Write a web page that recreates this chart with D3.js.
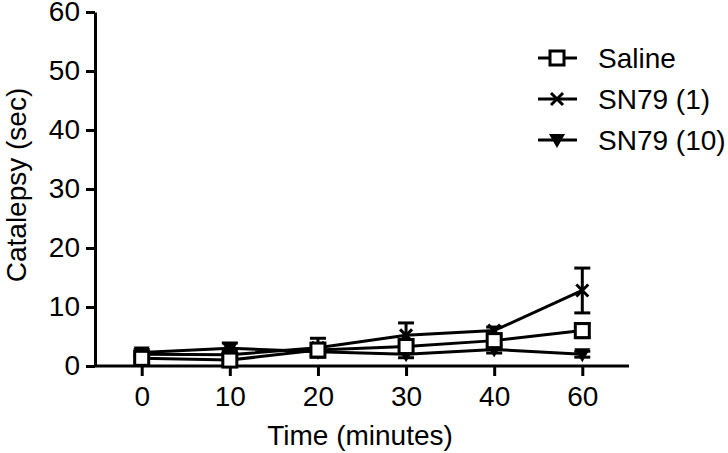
<!DOCTYPE html>
<html>
<head>
<meta charset="utf-8">
<script src="https://d3js.org/d3.v7.min.js"></script>
<style>
  body { margin: 0; background: #fff; }
  text { font-family: "Liberation Sans", Arial, sans-serif; fill: #000; }
</style>
</head>
<body>
<svg id="chart" width="728" height="453"></svg>
<script>
// categories on the x axis (minutes)
const times = ["0", "10", "20", "30", "40", "60"];
const yTicks = [0, 10, 20, 30, 40, 50, 60];

// series means and SEM
const salineMean = [1.3, 1.0, 2.7, 3.3, 4.3, 6.0];
const salineErr  = [0.6, 0.6, 1.0, 1.2, 0.8, 1.2];
const sn1Mean    = [2.0, 1.9, 3.1, 5.2, 6.0, 12.8];
const sn1Err     = [0.5, 0.6, 1.6, 2.1, 0.6, 3.8];
const sn10Mean   = [2.3, 3.0, 2.4, 2.0, 2.8, 2.0];
const sn10Err    = [0.5, 0.9, 0.8, 0.6, 0.6, 0.5];

const seriesNames = ["Saline", "SN79 (1)", "SN79 (10)"];
const series = [
  { name: seriesNames[0], mean: salineMean, err: salineErr, marker: "square" },
  { name: seriesNames[1], mean: sn1Mean, err: sn1Err, marker: "cross" },
  { name: seriesNames[2], mean: sn10Mean, err: sn10Err, marker: "triangle" }
];

const svg = d3.select("#chart");
const plotLeft = 95, plotRight = 629, plotTop = 12, plotBottom = 366;

const x = d3.scalePoint().domain(times).range([plotLeft, plotRight]).padding(0.53);
const y = d3.scaleLinear().domain([0, 60]).range([plotBottom, plotTop]);

const fs = 28;

// y axis
const yAxis = svg.append("g").attr("transform", `translate(${plotLeft},0)`)
  .call(d3.axisLeft(y).tickValues(yTicks).tickSize(9).tickPadding(6).tickSizeOuter(0));
// x axis
const xAxis = svg.append("g").attr("transform", `translate(0,${plotBottom})`)
  .call(d3.axisBottom(x).tickSize(10).tickPadding(10).tickSizeOuter(0));

[yAxis, xAxis].forEach(a => {
  a.select(".domain").attr("stroke", "#000").attr("stroke-width", 3);
  a.selectAll(".tick line").attr("stroke", "#000").attr("stroke-width", 3);
  a.selectAll(".tick text").attr("font-size", fs).attr("font-family", "Liberation Sans, Arial, sans-serif").attr("fill", "#000");
});
// extend x axis line to the y axis
xAxis.select(".domain").attr("d", `M${plotLeft},0H${plotRight}`);

svg.append("text")
  .attr("x", 360).attr("y", 445)
  .attr("text-anchor", "middle").attr("font-size", fs)
  .text("Time (minutes)");

svg.append("text")
  .attr("transform", `translate(26,${(plotTop + plotBottom) / 2 - 4}) rotate(-90)`)
  .attr("text-anchor", "middle").attr("font-size", fs)
  .text("Catalepsy (sec)");

function drawMarker(g, type) {
  if (type === "square") {
    g.append("rect").attr("x", -7).attr("y", -7).attr("width", 14).attr("height", 14)
      .attr("fill", "#fff").attr("stroke", "#000").attr("stroke-width", 3);
  } else if (type === "cross") {
    g.append("path").attr("d", "M-6,-6L6,6M-6,6L6,-6")
      .attr("stroke", "#000").attr("stroke-width", 3).attr("fill", "none");
  } else {
    g.append("path").attr("d", "M-8,-6L8,-6L0,8Z").attr("fill", "#000");
  }
}

const line = d3.line().x((d, i) => x(times[i])).y(d => y(d));

// draw series back to front
series.slice().reverse().forEach(s => {
  const g = svg.append("g");
  g.append("path").datum(s.mean).attr("d", line)
    .attr("fill", "none").attr("stroke", "#000").attr("stroke-width", 3);
  s.mean.forEach((m, i) => {
    const cx = x(times[i]);
    const eg = g.append("g");
    eg.append("line").attr("x1", cx).attr("x2", cx)
      .attr("y1", y(m - s.err[i])).attr("y2", y(m + s.err[i]))
      .attr("stroke", "#000").attr("stroke-width", 3);
    [m - s.err[i], m + s.err[i]].forEach(v => {
      eg.append("line").attr("x1", cx - 8).attr("x2", cx + 8)
        .attr("y1", y(v)).attr("y2", y(v))
        .attr("stroke", "#000").attr("stroke-width", 3);
    });
    drawMarker(g.append("g").attr("transform", `translate(${cx},${y(m)})`), s.marker);
  });
});

// legend
const legend = svg.append("g");
series.forEach((s, i) => {
  const ly = 58 + i * 41;
  const lg = legend.append("g").attr("transform", `translate(0,${ly})`);
  lg.append("line").attr("x1", 538).attr("x2", 577).attr("y1", 0).attr("y2", 0)
    .attr("stroke", "#000").attr("stroke-width", 3);
  drawMarker(lg.append("g").attr("transform", "translate(557,0)"), s.marker);
  lg.append("text").attr("x", 598).attr("y", 0).attr("dy", "0.35em")
    .attr("font-size", fs).text(s.name);
});
</script>
</body>
</html>
